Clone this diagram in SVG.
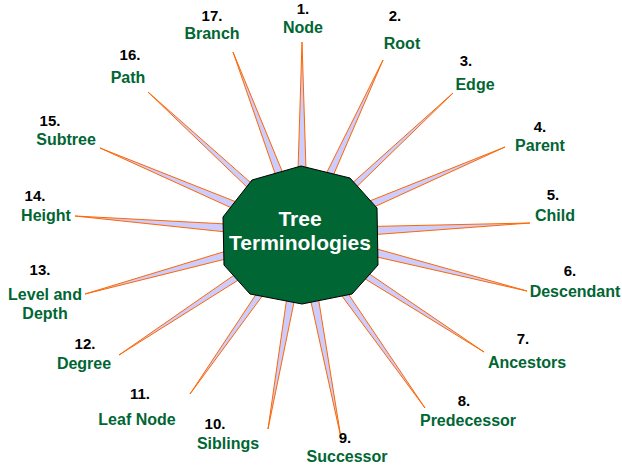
<svg xmlns="http://www.w3.org/2000/svg" width="622" height="465" viewBox="0 0 622 465">
<style>
.w{fill:#ccccff;stroke:#ff6600;stroke-width:1}
.n{font-family:"Liberation Sans",Arial,sans-serif;font-weight:bold;font-size:15px;fill:#000;text-anchor:middle}
.t{font-family:"Liberation Sans",Arial,sans-serif;font-weight:bold;font-size:16px;fill:#006633;text-anchor:middle}
.c{font-family:"Liberation Sans",Arial,sans-serif;font-weight:bold;font-size:21px;fill:#fff;text-anchor:middle}
</style>
<rect width="622" height="465" fill="#fff"/>
<g id="connectors">
<polygon class="w" points="296,234 302,42 308,234"/>
<polygon class="w" points="296,234 383,60 308,234"/>
<polygon class="w" points="302,228 453,93 302,240"/>
<polygon class="w" points="302,228 505,147 302,240"/>
<polygon class="w" points="302,228 530,223 302,240"/>
<polygon class="w" points="302,228 527,291 302,240"/>
<polygon class="w" points="302,228 484,352 302,240"/>
<polygon class="w" points="296,234 425,408 308,234"/>
<polygon class="w" points="296,234 341,438 308,234"/>
<polygon class="w" points="296,234 268,429 308,234"/>
<polygon class="w" points="296,234 190,394 308,234"/>
<polygon class="w" points="302,228 119,355 302,240"/>
<polygon class="w" points="302,228 85,294 302,240"/>
<polygon class="w" points="302,228 75,216 302,240"/>
<polygon class="w" points="302,228 100,148 302,240"/>
<polygon class="w" points="302,228 148,92 302,240"/>
<polygon class="w" points="296,234 233,52 308,234"/>
</g>
<g id="center">
<polygon points="301,166 350,178 377,208 378,265 352,294 302,304 250,294 224,265 223,217 252,180" fill="#006633" stroke="#000" stroke-width="1"/>
<text class="c" x="300" y="226">Tree</text>
<text class="c" x="300" y="250">Terminologies</text>
</g>
<g id="n1"><text class="n" x="303" y="14">1.</text><text class="t" x="303" y="33">Node</text></g>
<g id="n2"><text class="n" x="395" y="21">2.</text><text class="t" x="402" y="49">Root</text></g>
<g id="n3"><text class="n" x="466" y="66">3.</text><text class="t" x="475" y="90">Edge</text></g>
<g id="n4"><text class="n" x="540" y="132">4.</text><text class="t" x="540" y="151">Parent</text></g>
<g id="n5"><text class="n" x="553" y="200">5.</text><text class="t" x="555" y="221">Child</text></g>
<g id="n6"><text class="n" x="570" y="276">6.</text><text class="t" x="575" y="297">Descendant</text></g>
<g id="n7"><text class="n" x="523" y="344">7.</text><text class="t" x="527" y="368">Ancestors</text></g>
<g id="n8"><text class="n" x="464" y="406">8.</text><text class="t" x="468" y="426">Predecessor</text></g>
<g id="n9"><text class="n" x="345" y="443">9.</text><text class="t" x="347" y="462">Successor</text></g>
<g id="n10"><text class="n" x="215" y="429">10.</text><text class="t" x="228" y="449">Siblings</text></g>
<g id="n11"><text class="n" x="140" y="399">11.</text><text class="t" x="137" y="425">Leaf Node</text></g>
<g id="n12"><text class="n" x="85" y="349">12.</text><text class="t" x="84" y="369">Degree</text></g>
<g id="n13"><text class="n" x="40" y="275">13.</text><text class="t" x="45" y="300">Level and</text><text class="t" x="45" y="319">Depth</text></g>
<g id="n14"><text class="n" x="35" y="201">14.</text><text class="t" x="46" y="221">Height</text></g>
<g id="n15"><text class="n" x="50" y="126">15.</text><text class="t" x="66" y="145">Subtree</text></g>
<g id="n16"><text class="n" x="130" y="60">16.</text><text class="t" x="128" y="83">Path</text></g>
<g id="n17"><text class="n" x="212" y="21">17.</text><text class="t" x="212" y="39">Branch</text></g>
</svg>
